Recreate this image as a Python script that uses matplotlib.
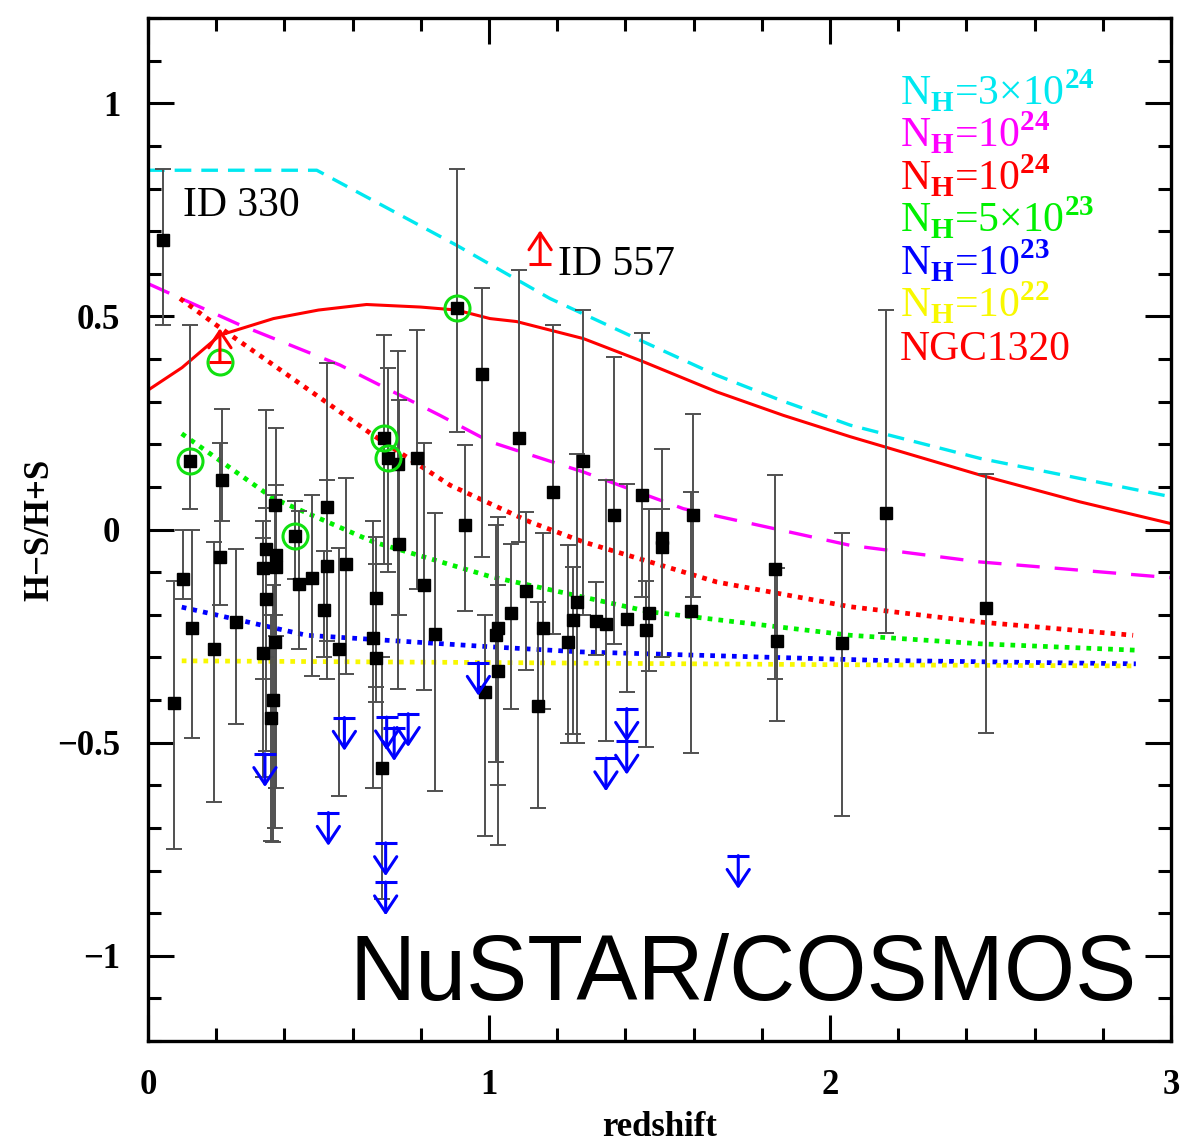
import matplotlib
matplotlib.use('Agg')
import matplotlib.pyplot as plt
import numpy as np
from matplotlib import font_manager

# Detected sources: redshift, hardness ratio, lower and upper end of the error bar
z = [0.044, 0.076, 0.104, 0.130, 0.123, 0.216, 0.211, 0.194, 0.258,
     0.346, 0.375, 0.337, 0.375, 0.372, 0.346, 0.372, 0.337, 0.367, 0.361,
     0.431, 0.444, 0.480, 0.524, 0.524, 0.517, 0.581, 0.560,
     0.669, 0.659, 0.669, 0.692, 0.705, 0.734, 0.737, 0.687, 0.788, 0.809, 0.842,
     0.907, 0.979, 0.988, 0.930, 1.089, 1.027, 1.022, 1.027, 1.066, 1.108,
     1.187, 1.143, 1.157, 1.232, 1.245, 1.259, 1.277, 1.315, 1.343, 1.367,
     1.404, 1.450, 1.470, 1.460, 1.508, 1.508, 1.597, 1.591, 1.839, 1.846,
     2.034, 2.163, 2.457]
hr = [0.680, -0.406, -0.115, -0.230, 0.162, 0.116, -0.064, -0.281, -0.218,
      -0.045, -0.060, -0.090, -0.087, 0.058, -0.164, -0.263, -0.289, -0.400, -0.442,
      -0.015, -0.127, -0.113, 0.053, -0.086, -0.188, -0.081, -0.281,
      -0.160, -0.254, -0.301, 0.214, 0.168, 0.153, -0.035, -0.559, 0.167, -0.131, -0.246,
      0.519, 0.364, -0.380, 0.010, 0.214, -0.333, -0.248, -0.232, -0.195, -0.145,
      0.088, -0.414, -0.231, -0.264, -0.213, -0.170, 0.160, -0.215, -0.221, 0.034,
      -0.211, 0.081, -0.195, -0.236, -0.020, -0.040, 0.034, -0.191, -0.092, -0.262,
      -0.266, 0.038, -0.185]
hr_lo = [0.480, -0.749, -0.164, -0.490, 0.049, 0.021, -0.178, -0.640, -0.457,
         -0.300, -0.250, -0.350, -0.606, -0.200, -0.520, -0.700, -0.580, -0.732, -0.730,
         -0.115, -0.280, -0.344, -0.262, -0.350, -0.300, -0.340, -0.624,
         -0.405, -0.606, -0.370, -0.080, -0.100, -0.373, -0.200, -0.866, -0.140, -0.377, -0.614,
         0.229, -0.064, -0.720, -0.191, -0.030, -0.741, -0.545, -0.599, -0.420, -0.330,
         -0.244, -0.653, -0.420, -0.500, -0.480, -0.500, -0.200, -0.295, -0.497, -0.268,
         -0.380, -0.158, -0.333, -0.509, -0.299, -0.300, -0.158, -0.524, -0.351, -0.450,
         -0.671, -0.242, -0.477]
hr_hi = [0.847, -0.121, -0.002, 0.000, 0.479, 0.282, 0.204, -0.030, -0.046,
         0.280, 0.239, 0.020, 0.104, 0.080, 0.050, -0.100, -0.020, -0.130, -0.200,
         0.066, 0.043, 0.080, 0.390, 0.116, -0.050, 0.121, -0.043,
         -0.017, 0.020, -0.080, 0.456, 0.378, 0.420, 0.304, -0.300, 0.468, 0.202, 0.039,
         0.847, 0.566, -0.200, 0.198, 0.609, -0.130, 0.010, 0.030, -0.033, 0.041,
         0.480, -0.170, -0.009, -0.037, -0.088, 0.178, 0.515, -0.123, 0.116, 0.405,
         0.108, 0.460, 0.049, -0.120, 0.190, 0.049, 0.272, 0.088, 0.127, -0.090,
         -0.009, 0.514, 0.131]

# Circled sources
circ_z = [0.123, 0.211, 0.431, 0.692, 0.705, 0.907]
circ_hr = [0.162, 0.394, -0.015, 0.214, 0.168, 0.519]

# Lower limits (red) and upper limits (blue)
lolim_z = [0.211, 1.150]
lolim_hr = [0.394, 0.624]
uplim_z = [0.343, 0.529, 0.576, 0.700, 0.722, 0.763, 0.697, 0.697, 0.969,
           1.343, 1.404, 1.404, 1.731]
uplim_hr = [-0.526, -0.664, -0.441, -0.440, -0.465, -0.432, -0.735, -0.827, -0.312,
            -0.536, -0.420, -0.497, -0.765]

# Model tracks
cyan_z = [0.0, 0.495, 0.70, 0.905, 1.179, 1.433, 1.668, 1.853, 2.059, 2.44, 3.0]
cyan_hr = [0.843, 0.843, 0.755, 0.667, 0.542, 0.448, 0.362, 0.304, 0.245, 0.167, 0.077]
mag_z = [0.0, 0.27, 0.563, 0.856, 1.003, 1.277, 1.57, 2.059, 2.44, 3.0]
mag_hr = [0.577, 0.48, 0.386, 0.268, 0.206, 0.135, 0.049, -0.037, -0.076, -0.113]
ngc_z = [0.0, 0.1, 0.211, 0.368, 0.5, 0.641, 0.8, 0.905, 1.003, 1.081, 1.277,
         1.452, 1.668, 1.863, 2.059, 2.44, 2.733, 3.0]
ngc_hr = [0.327, 0.38, 0.456, 0.495, 0.515, 0.528, 0.522, 0.515, 0.495, 0.488, 0.448,
          0.394, 0.323, 0.268, 0.218, 0.128, 0.065, 0.014]
red_z = [0.094, 0.2, 0.368, 0.661, 0.886, 1.12, 1.277, 1.668, 2.059, 2.44, 2.889]
red_hr = [0.542, 0.48, 0.386, 0.221, 0.104, 0.018, -0.029, -0.123, -0.181, -0.217, -0.248]
green_z = [0.099, 0.368, 0.661, 1.003, 1.472, 2.059, 2.44, 2.897]
green_hr = [0.225, 0.073, -0.029, -0.11, -0.193, -0.248, -0.268, -0.283]
blue_z = [0.099, 0.465, 1.003, 1.267, 2.147, 2.897]
blue_hr = [-0.182, -0.248, -0.275, -0.287, -0.307, -0.315]
yel_z = [0.099, 1.0, 2.0, 2.897]
yel_hr = [-0.308, -0.312, -0.317, -0.32]

legend_labels = ['N$_{\\mathbf{H}}$=3\u00d710$^{\\mathbf{24}}$',
                 'N$_{\\mathbf{H}}$=10$^{\\mathbf{24}}$',
                 'N$_{\\mathbf{H}}$=10$^{\\mathbf{24}}$',
                 'N$_{\\mathbf{H}}$=5\u00d710$^{\\mathbf{23}}$',
                 'N$_{\\mathbf{H}}$=10$^{\\mathbf{23}}$',
                 'N$_{\\mathbf{H}}$=10$^{\\mathbf{22}}$',
                 'NGC1320']
legend_colors = ['#00e8f0', '#ff00ff', '#ff0000', '#00f000', '#0000ff', '#f8f800', '#ff0000']

plt.rcParams['mathtext.fontset'] = 'custom'
plt.rcParams['mathtext.rm'] = 'Liberation Serif'
plt.rcParams['mathtext.bf'] = 'Liberation Serif:bold'

fams = {f.name for f in font_manager.fontManager.ttflist}
big_font = 'Liberation Sans Narrow' if 'Liberation Sans Narrow' in fams else 'Liberation Sans'
big_size = 78 if big_font == 'Liberation Sans Narrow' else 66

fig = plt.figure(figsize=(11.81, 11.44), dpi=100)
ax = fig.add_axes([0.1253, 0.09, 0.8662, 0.8942])

dot = (0, (1.0, 1.3))
ax.plot(cyan_z, cyan_hr, color=legend_colors[0], lw=2.4, ls=(0, (5, 3)), zorder=2)
ax.plot(mag_z, mag_hr, color=legend_colors[1], lw=2.4, ls=(0, (7, 4.5)), zorder=2)
ax.plot(ngc_z, ngc_hr, color=legend_colors[6], lw=2.2, zorder=2)
ax.plot(red_z, red_hr, color='#ff0000', lw=3.4, ls=dot, zorder=2)
ax.plot(green_z, green_hr, color='#00f000', lw=3.4, ls=dot, zorder=2)
ax.plot(blue_z, blue_hr, color='#0000ff', lw=3.4, ls=dot, zorder=2)
ax.plot(yel_z, yel_hr, color='#f8f800', lw=3.4, ls=dot, zorder=2)

hr_a = np.array(hr)
yerr = [hr_a - np.array(hr_lo), np.array(hr_hi) - hr_a]
ax.errorbar(z, hr, yerr=yerr, fmt='none', ecolor='#505050', elinewidth=1.4,
            capsize=6, capthick=1.4, zorder=3)
ax.plot(z, hr, 's', color='black', ms=9, zorder=4)
ax.plot(circ_z, circ_hr, 'o', mfc='none', mec='#10e010', mew=2.2, ms=18, zorder=5)

# limits: cap at the value, arrow pointing away from it
arrow_len = 0.078
ax.plot(lolim_z, lolim_hr, '_', color='red', ms=16, mew=2.2, zorder=5)
for xz, yv in zip(lolim_z, lolim_hr):
    ax.annotate('', xy=(xz, yv + arrow_len), xytext=(xz, yv),
                arrowprops=dict(arrowstyle='->,head_length=0.6,head_width=0.4',
                                color='red', lw=2.2, shrinkA=0, shrinkB=0,
                                mutation_scale=20), zorder=5)
ax.plot(uplim_z, uplim_hr, '_', color='blue', ms=16, mew=2.2, zorder=5)
for xz, yv in zip(uplim_z, uplim_hr):
    ax.annotate('', xy=(xz, yv - arrow_len), xytext=(xz, yv),
                arrowprops=dict(arrowstyle='->,head_length=0.6,head_width=0.4',
                                color='blue', lw=2.2, shrinkA=0, shrinkB=0,
                                mutation_scale=20), zorder=5)

ax.set_xlim(0, 3)
ax.set_ylim(-1.2, 1.2)
ax.set_xticks([0, 1, 2, 3])
ax.set_xticklabels(['0', '1', '2', '3'])
ax.set_yticks([-1, -0.5, 0, 0.5, 1])
ax.set_yticklabels(['\u22121', '\u22120.5', '0', '0.5', '1'])
ax.set_xticks(np.arange(0, 3.01, 0.2), minor=True)
ax.set_yticks(np.arange(-1.2, 1.21, 0.1), minor=True)
ax.tick_params(which='both', direction='in', top=True, right=True, width=2.2)
ax.tick_params(which='major', length=19, pad=20)
ax.tick_params(which='minor', length=9.5)
for lab in ax.get_xticklabels() + ax.get_yticklabels():
    lab.set_family('Liberation Serif')
    lab.set_weight('bold')
    lab.set_fontsize(25)
for sp in ax.spines.values():
    sp.set_linewidth(2.4)

ax.set_xlabel('redshift', family='Liberation Serif', weight='bold', fontsize=25)
ax.set_ylabel('H\u2212S/H+S', family='Liberation Serif', weight='bold', fontsize=25)
ax.xaxis.set_label_coords(0.5, -0.068)
ax.yaxis.set_label_coords(-0.09, 0.5)

for i, (lab, col) in enumerate(zip(legend_labels, legend_colors)):
    ax.text(0.735, 0.915 - i * 0.0415, lab, color=col, transform=ax.transAxes,
            family='Liberation Serif', fontsize=30, va='baseline', ha='left')

ax.text(0.034, 0.807, 'ID 330', transform=ax.transAxes, family='Liberation Serif',
        fontsize=30, va='baseline', ha='left')
ax.text(0.401, 0.749, 'ID 557', transform=ax.transAxes, family='Liberation Serif',
        fontsize=30, va='baseline', ha='left')

ax.text(0.967, 0.04, 'NuSTAR/COSMOS', transform=ax.transAxes, family=big_font,
        fontsize=big_size, va='baseline', ha='right')

fig.savefig('out.png', dpi=100)
